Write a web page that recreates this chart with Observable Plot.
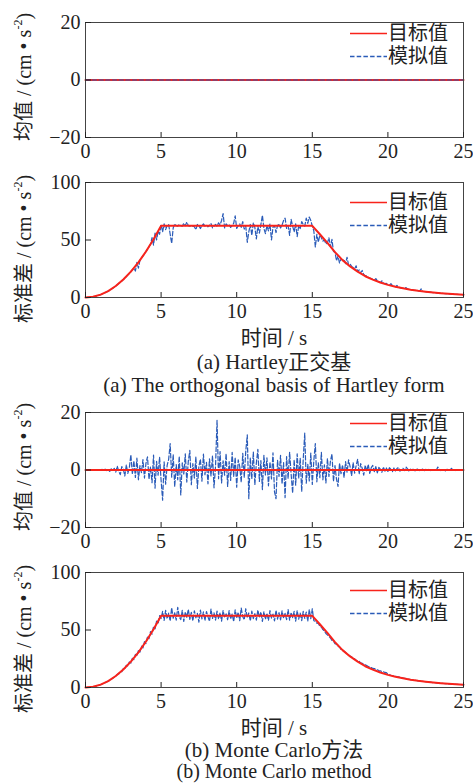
<!DOCTYPE html>
<html><head><meta charset="utf-8">
<script src="https://cdn.jsdelivr.net/npm/d3@7"></script>
<script src="https://cdn.jsdelivr.net/npm/@observablehq/plot@0.6"></script>
<style>
body{margin:0;background:#fff;}
#root{position:relative;width:473px;height:783px;overflow:hidden;font-family:"Liberation Serif","Noto Sans CJK SC",serif;color:#222;}
.panel{position:absolute;left:0;}
.ylab{position:absolute;white-space:nowrap;font-size:20px;line-height:22px;transform:translate(-50%,-50%) rotate(-90deg);}
.ylab sup{font-size:12px;vertical-align:9px;line-height:0;}
.center{position:absolute;white-space:nowrap;transform:translate(-50%,-50%);line-height:20px;}
.leg{position:absolute;left:349px;}
.row{display:flex;align-items:center;height:23px;}
.row span{font-family:"Liberation Serif","Noto Sans CJK SC",serif;font-size:20px;line-height:20px;color:#222;margin-left:1px;}
</style>
</head><body><div id="root"></div>
<script>
// ---------- data ----------
const time = d3.range(251).map(i => Math.round(i) / 10); // sampling instants 0..25 s, step 0.1
const xTicks = [0, 5, 10, 15, 20, 25];
const meanTicks = [-20, 0, 20];
const stdTicks = [0, 50, 100];

// target standard deviation (both methods)
const targetTime = [0,0.5,1,1.5,2,2.5,3,3.5,4,4.5,5,15,15.5,16,16.5,17,17.5,18,18.5,19,19.5,20,20.5,21,21.5,22,22.5,23,23.5,24,24.5,25];
const targetStd  = [0,0.6,2.5,5.6,10,15.6,22.5,30.6,40,50.6,62.3,62.3,55,47.5,39.5,32.5,27,22.5,18.5,15.5,13,11,9.3,8,6.8,5.8,5,4.3,3.7,3.2,2.8,2.4];
// target mean (both methods)
const meanTime = [0, 25];
const targetMean = [0, 0];
// (a) Hartley: simulated mean
const hartleyMean = [0, 0];
// (a) Hartley: simulated std, 0.1 s step
const hartleyStd = [
0,0.03,0.1,0.2,0.4,0.6,0.9,1.2,1.6,2.0,
2.5,3.0,3.6,4.2,4.9,5.6,6.4,7.2,8.1,9.0,
10.0,11.0,12.1,13.2,14.4,15.6,16.9,18.2,19.6,21.0,
22.5,24.0,25.6,23.0,30.5,25.5,32.4,34.2,36.1,38.0,
40,42,44.1,46.2,52.0,45.5,56.0,50.0,57.6,55.0,
63.5,57.0,64.0,59.0,62.5,63.5,55.0,47.0,60.5,64.0,
62.5,62.0,63.5,62.5,62.0,64.5,62.5,65.5,62.5,62.0,
63.0,62.0,61.5,59.0,63.5,62.5,60.0,62.5,64.0,62.0,
63.0,61.5,62.5,64.5,60.5,62.0,63.5,62.0,65.0,63.0,
67.0,73.0,60.5,64.0,62.5,63.5,61.0,62.5,64.5,71.0,
60.0,62.5,64.0,61.0,66.0,59.5,62.0,48.0,57.0,63.5,
54.0,65.0,61.0,51.0,62.0,56.0,63.5,71.5,60.0,55.5,
62.5,58.0,64.0,50.0,61.0,62.5,56.5,62.5,64.0,60.5,
63.0,67.0,69.0,60.0,62.5,54.0,68.0,62.0,57.0,64.0,
53.0,62.5,60.0,66.0,63.5,62.0,69.0,64.5,70.0,67.0,
62.0,58.0,44.0,55.0,48.0,54.5,52.0,49.0,50.0,46.5,
47.5,52.0,44.0,50.5,40.0,39.5,32.0,36.0,30.0,33.5,
32.5,33.0,29.5,35.0,28.0,29.0,27.0,26.0,25.0,27.5,
22.5,24.0,21.5,23.5,20.0,19.0,18.5,17.5,17.0,16.5,
15.5,15.0,16.5,14.5,14.0,13.0,14.5,12.5,12.0,12.3,
11.0,10.6,12.0,10.3,9.8,9.3,10.5,9.0,8.5,8.2,
8.0,7.8,8.6,7.5,7.0,6.8,6.6,6.4,6.3,6.0,
5.8,5.6,7.5,5.4,5.2,5.0,4.9,4.7,4.6,4.4,
4.3,4.2,4.1,3.9,3.8,3.7,3.6,3.5,3.4,3.3,
3.2,3.1,3.0,3.0,2.9,2.8,2.7,2.6,2.6,2.5,
2.4];
// (b) Monte Carlo: simulated mean, 0.1 s step
const mcMean = [
0,0,0,0,0,0,0,0,0,0,
0,0.2,-0.3,0.3,-0.2,0.1,-0.5,0.4,-0.3,0.6,
-0.8,1.4,-0.5,-1.6,1.2,0.3,-2.1,1.8,-1.2,0.8,
5.3,-1.5,3.2,-2.6,4.1,-3.4,1.5,-0.9,3.6,-2.8,
2.4,4.6,-3.2,1.1,-4.4,5.2,-6.3,3.0,-1.8,4.5,
-3.6,-10.5,2.8,-4.9,1.6,3.7,9.2,-2.5,5.4,-5.8,
1.9,-3.4,4.8,-8.7,2.5,-1.4,5.6,-4.2,3.1,6.8,
-5.1,2.2,-2.8,4.6,-6.4,1.3,3.8,-3.9,5.5,-1.6,
2.7,-4.8,3.9,-2.1,5.0,-6.2,1.4,17.3,-3.0,6.4,
-4.5,3.2,-1.8,5.7,-5.7,2.9,-3.6,6.1,-2.3,4.4,
-6.0,3.5,1.2,-4.3,5.8,-2.6,6.6,12.2,-10.0,4.3,
-3.1,6.3,-5.2,2.4,7.2,-4.0,3.3,-6.8,5.1,-1.7,
4.2,-5.5,2.8,-3.1,6.0,-7.6,-10.0,3.4,-2.2,5.1,
-4.9,2.6,-9.6,4.7,-3.0,6.2,-1.5,-8.0,3.6,-5.3,
5.6,-2.9,4.1,-7.5,3.7,12.8,-4.6,2.0,-3.8,5.9,
-5.0,3.2,9.2,-4.1,2.5,-2.7,6.1,-3.4,1.8,-4.5,
4.0,-2.2,3.1,5.6,-4.0,1.5,-3.2,-5.7,2.4,-1.3,
1.8,-2.6,2.9,-0.8,3.5,1.2,-2.0,2.6,-1.1,1.5,
3.8,-1.4,2.2,0.6,-1.8,1.7,-0.5,2.0,-1.2,0.8,
1.6,-0.6,1.2,-1.0,0.9,0.3,-0.8,1.1,-0.4,0.7,
-0.5,0.8,0.2,-0.6,0.7,-0.3,0.5,0.9,-0.4,0.3,
0.6,-0.2,1.0,0.4,-0.5,0.3,-0.1,0.5,-0.3,0.2,
0.4,-0.2,0.1,0.3,-0.3,0.2,0,0.3,-0.2,0.1,
0,0.2,-0.1,1.0,0.2,-0.2,0.1,0,-0.3,0.2,
0.1,-0.1,0.6,0,0.1,-0.2,0.1,0,0.2,0,
0];
// (b) Monte Carlo: simulated std, 0.1 s step
const mcStd = [
0,0.03,0.1,0.2,0.4,0.6,0.9,1.2,1.6,2.0,
2.5,3.0,3.6,4.2,4.9,5.6,6.4,7.2,8.1,9.0,
10.0,11.5,11.8,13.9,13.8,16.4,16.2,19.3,18.8,22.2,
21.2,25.4,24.2,28.8,27.3,32.3,30.8,36.0,34.4,39.9,
38.2,44.2,42.4,48.6,46.4,53.2,51.0,57.8,55.6,62.5,
60.0,66.2,58.4,67.0,59.8,64.7,57.8,69.4,60.2,65.0,
58.6,69.8,61.3,59.1,67.1,57.5,65.9,61.0,68.0,59.3,
65.4,57.9,66.7,60.6,64.5,56.9,67.3,59.7,65.8,58.2,
66.1,61.4,57.6,68.3,60.0,64.9,58.5,66.5,59.4,65.2,
57.7,67.0,60.8,64.0,58.9,66.8,59.6,63.9,57.3,67.6,
60.3,65.5,58.1,69.1,61.6,59.0,68.5,60.5,64.8,57.8,
66.4,59.9,64.3,58.6,67.4,60.9,65.7,57.4,66.0,59.2,
64.6,58.3,66.9,60.4,63.8,57.9,67.2,59.5,65.1,58.8,
66.6,60.2,64.4,59.0,67.8,58.5,65.3,60.7,66.2,57.6,
67.0,59.4,64.7,58.2,66.3,60.1,65.6,57.7,67.9,59.8,
68.5,58.0,57.6,55.9,55.8,53.0,52.6,50.3,49.2,47.0,
45.8,44.5,43.0,40.9,40.4,38.1,37.7,35.8,35.3,33.1,
32.4,31.6,30.5,29.1,28.3,27.4,26.6,25.1,24.9,23.7,
22.8,22.7,21.4,21.0,20.2,19.7,19.0,18.3,17.9,17.3,
16.6,16.5,15.6,15.4,14.7,14.5,13.9,13.7,13.1,12.9,
11.4,11.0,10.5,10.4,9.9,9.8,9.4,9.3,8.9,8.8,
8.1,8.0,7.7,7.5,7.2,6.9,6.8,6.5,6.3,6.1,
5.8,5.7,5.5,5.4,5.2,5.0,4.9,4.7,4.6,4.4,
4.3,4.2,4.1,3.9,3.8,3.7,3.6,3.5,3.4,3.3,
3.2,3.1,3.0,3.0,2.9,2.8,2.7,2.6,2.6,2.5,
2.4];

const legendLabels = ["目标值", "模拟值"];
const meanLabel = "均值";
const stdLabel = "标准差";
const xLabel = "时间 / s";
const captionA = ["(a) Hartley正交基", "(a) The orthogonal basis of Hartley form"];
const captionB = ["(b) Monte Carlo方法", "(b) Monte Carlo method"];

// ---------- styles ----------
const RED = "#f8231b", BLUE = "#2a5bb8", DASH = "4.5,2.2";
const root = document.getElementById("root");

function panel({top, yDomain, yTicks, simX, simY, redOnTop}) {
  const sim = Plot.line(simY, {x: simX, y: simY, stroke: BLUE, strokeWidth: 1.2, strokeDasharray: DASH});
  const tgtX = yTicks[0] < 0 ? meanTime : targetTime;
  const tgtY = yTicks[0] < 0 ? targetMean : targetStd;
  const tgt = Plot.line(tgtY, {x: tgtX, y: tgtY, stroke: RED, strokeWidth: 2});
  const svg = Plot.plot({
    width: 473, height: 162,
    marginLeft: 85, marginRight: 10, marginTop: 22, marginBottom: 25,
    style: {background: "transparent", fontFamily: "Liberation Serif, serif", fontSize: "20px", color: "#222", overflow: "visible"},
    x: {domain: [0, 25]},
    y: {domain: yDomain},
    marks: [
      ...(redOnTop ? [sim, tgt] : [tgt, sim]),
      Plot.frame({stroke: "#444", strokeWidth: 1}),
      Plot.axisX(xTicks, {tickSize: -5, tickFormat: () => "", label: null, stroke: "#222"}),
      Plot.axisX(xTicks, {tickSize: 0, tickPadding: 6, label: null, fill: "#222"}),
      Plot.axisY(yTicks, {tickSize: -6, tickFormat: () => "", label: null, stroke: "#222"}),
      Plot.axisY(yTicks, {tickSize: 0, tickPadding: 5, label: null, fill: "#222"})
    ]
  });
  svg.classList.add("panel");
  svg.style.top = top + "px";
  root.appendChild(svg);
}

function yLabel(text, cx, cy) {
  const d = document.createElement("div");
  d.className = "ylab";
  d.style.left = cx + "px"; d.style.top = cy + "px";
  d.innerHTML = `<span style="font-family:'Noto Sans CJK SC'">${text}</span> / (cm • s<sup>-2</sup>)`;
  root.appendChild(d);
}
function centerText(text, cx, cy, size) {
  const d = document.createElement("div");
  d.className = "center";
  d.style.left = cx + "px"; d.style.top = cy + "px";
  d.style.fontSize = size + "px";
  d.textContent = text;
  root.appendChild(d);
}
function legend(y) {
  const d = document.createElement("div");
  d.className = "leg";
  d.style.top = (y - 11.5) + "px";
  d.innerHTML = legendLabels.map((lab, i) =>
    `<div class="row"><svg width="38" height="23"><line x1="1" x2="38" y1="11.5" y2="11.5" stroke="${i ? BLUE : RED}" stroke-width="${i ? 1.3 : 1.6}" ${i ? `stroke-dasharray="${DASH}"` : ""}/></svg><span>${lab}</span></div>`
  ).join("");
  root.appendChild(d);
}

panel({top: 0, yDomain: [-20, 20], yTicks: meanTicks, simX: meanTime, simY: hartleyMean, redOnTop: false});
panel({top: 160, yDomain: [0, 100], yTicks: stdTicks, simX: time, simY: hartleyStd, redOnTop: true});
panel({top: 390, yDomain: [-20, 20], yTicks: meanTicks, simX: time, simY: mcMean, redOnTop: true});
panel({top: 550, yDomain: [0, 100], yTicks: stdTicks, simX: time, simY: mcStd, redOnTop: true});

yLabel(meanLabel, 23, 77);
yLabel(stdLabel, 23, 249);
yLabel(meanLabel, 23, 467);
yLabel(stdLabel, 23, 639);

legend(33); legend(202); legend(423); legend(590);

centerText(xLabel, 274, 338, 21);
centerText(captionA[0], 274, 362, 21);
centerText(captionA[1], 274, 385, 21);
centerText(xLabel, 274, 728, 21);
centerText(captionB[0], 274, 750, 21);
centerText(captionB[1], 274, 771, 20);
</script>
</body></html>
